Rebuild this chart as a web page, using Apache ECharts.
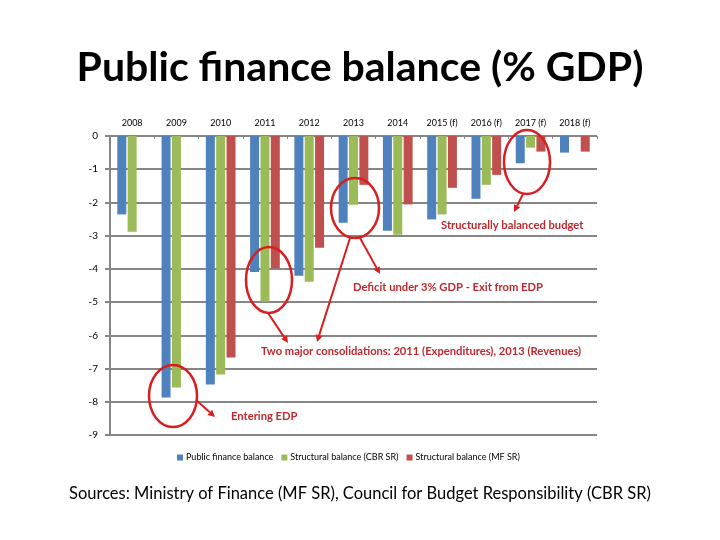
<!DOCTYPE html>
<html><head><meta charset="utf-8">
<script src="https://cdn.jsdelivr.net/npm/echarts@6/dist/echarts.min.js"></script>
<style>html,body{margin:0;padding:0;background:#fff}#c{width:720px;height:540px}</style>
</head><body><div id="c"></div>
<script>
var categories = ['2008','2009','2010','2011','2012','2013','2014','2015 (f)','2016 (f)','2017 (f)','2018 (f)'];
var publicBalance = [-2.36,-7.87,-7.48,-4.09,-4.21,-2.61,-2.85,-2.51,-1.89,-0.82,-0.5];
var structCBR = [-2.88,-7.57,-7.18,-4.99,-4.39,-2.07,-2.97,-2.36,-1.47,-0.35,null];
var structMF = [null,null,-6.67,-3.98,-3.36,-1.47,-2.06,-1.56,-1.17,-0.47,-0.47];
var seriesNames = ['Public finance balance','Structural balance (CBR SR)','Structural balance (MF SR)'];
var yTicks = [0,-1,-2,-3,-4,-5,-6,-7,-8,-9];

var chart = echarts.init(document.getElementById('c'));
var red = '#D81E1E', txtRed = '#C0282D';
function arrow(x1,y1,x2,y2){
  var a = Math.atan2(y2-y1,x2-x1), L=7, W=3.5;
  var bx = x2 - L*Math.cos(a), by = y2 - L*Math.sin(a);
  return [
    {type:'line',shape:{x1:x1,y1:y1,x2:bx,y2:by},style:{stroke:red,lineWidth:2}},
    {type:'polygon',shape:{points:[[x2,y2],[bx+W*Math.sin(a),by-W*Math.cos(a)],[bx-W*Math.sin(a),by+W*Math.cos(a)]]},style:{fill:red}}
  ];
}
function ell(cx,cy,rx,ry){return {type:'ellipse',shape:{cx:cx,cy:cy,rx:rx,ry:ry},style:{fill:null,stroke:red,lineWidth:2.5},z:100};}
function txt(x,y,t){return {type:'text',x:x,y:y,style:{text:t,fill:txtRed,font:'bold 11.2px Lato',textVerticalAlign:'middle'},z:100};}
var g = [
  {type:'text',left:'center',top:47,style:{text:'Public finance balance (% GDP)',fill:'#000',font:'bold 41px Lato'}},
  {type:'text',left:'center',top:485,style:{text:'Sources: Ministry of Finance (MF SR), Council for Budget Responsibility (CBR SR)',fill:'#000',font:'16.5px Lato'}},
  ell(173,396,24,31), ell(269,280,23,33), ell(355,208,24,30), ell(527,162,23,32),
  txt(441,225,'Structurally balanced budget'),
  txt(353,287,'Deficit under 3% GDP - Exit from EDP'),
  txt(261,351,'Two major consolidations: 2011 (Expenditures), 2013 (Revenues)'),
  txt(231,416,'Entering EDP')
];
g = g.concat(arrow(196,400,215,417), arrow(268,313,288,343), arrow(350,238,317,342), arrow(360,238,380,274), arrow(523,194,514,212));
g.forEach(function(e){e.z = e.z||100;});

chart.setOption({
  animation:false,
  textStyle:{fontFamily:'Lato'},
  grid:{left:110,right:123,top:136,bottom:105,containLabel:false},
  legend:{bottom:73,left:172,itemWidth:6,itemHeight:6,itemGap:8,icon:'rect',textStyle:{fontSize:9,color:'#000',padding:[0,0,0,-2]},data:seriesNames},
  xAxis:{type:'category',position:'top',data:categories,
    axisLine:{show:false},axisTick:{show:true,inside:true,length:3,lineStyle:{color:'#868686'}},
    axisLabel:{fontSize:9,color:'#000',margin:8}},
  yAxis:{type:'value',min:-9,max:0,interval:1,
    axisLine:{show:true,lineStyle:{color:'#868686',width:2}},
    axisTick:{show:true,length:5,lineStyle:{color:'#868686',width:2}},
    splitLine:{lineStyle:{color:'#868686',width:2}},
    axisLabel:{fontSize:10,color:'#000',margin:12,formatter:function(v){return v===0?'0':String(v);}}},
  series:[
    {name:seriesNames[0],type:'bar',data:publicBalance,barWidth:9,barGap:'15%',itemStyle:{color:'#4F81BD'}},
    {name:seriesNames[1],type:'bar',data:structCBR,barWidth:9,barGap:'15%',itemStyle:{color:'#9BBB59'}},
    {name:seriesNames[2],type:'bar',data:structMF,barWidth:9,barGap:'15%',itemStyle:{color:'#C0504D'}}
  ],
  graphic:g
});
</script></body></html>
